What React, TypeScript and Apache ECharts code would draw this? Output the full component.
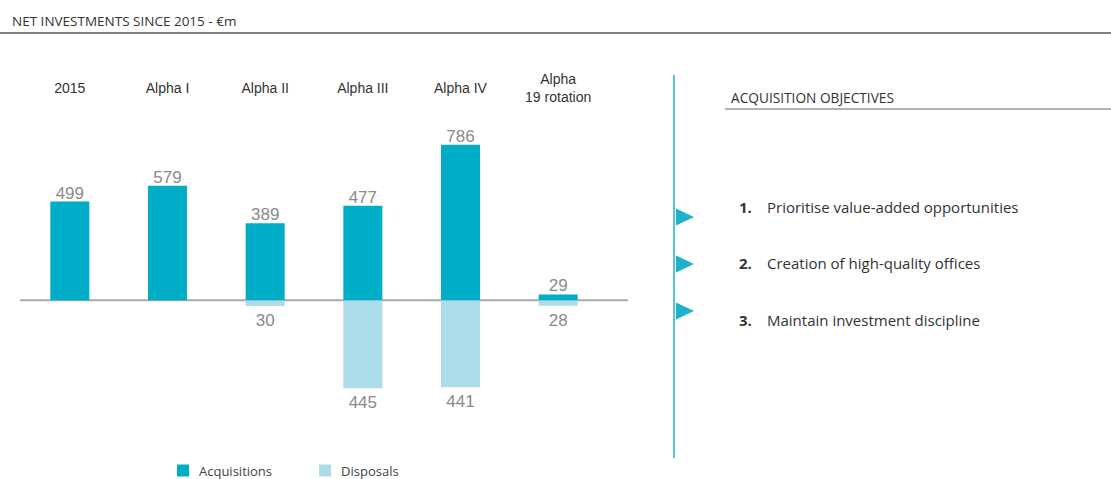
import React, { useEffect, useRef } from "react";
import * as echarts from "echarts";

const categories = ["2015", "Alpha I", "Alpha II", "Alpha III", "Alpha IV", "Alpha\n19 rotation"];
const acquisitions = [499, 579, 389, 477, 786, 29];
const disposals: (number | null)[] = [null, null, 30, 445, 441, 28];
const objectives = [
  "Prioritise value-added opportunities",
  "Creation of high-quality offices",
  "Maintain investment discipline",
];
const title = "NET INVESTMENTS SINCE 2015 - €m";
const sideTitle = "ACQUISITION OBJECTIVES";

const ACQ = "#00adc6";
const DIS = "#acdce8";
const TEAL = "#1eb2ca";
const SANS = "'Open Sans', 'Noto Sans', sans-serif";
const NUM = "'Liberation Sans', Arial, sans-serif";

export default function App() {
  const ref = useRef<HTMLDivElement>(null);
  useEffect(() => {
    if (!ref.current) return;
    const chart = echarts.init(ref.current, undefined, { renderer: "svg" });
    const option: any = {
      animation: false,
      grid: { left: 21, width: 586, top: 142, height: 257 },
      xAxis: {
        type: "category",
        data: categories,
        position: "top",
        axisLine: { show: false, onZero: false },
        axisTick: { show: false },
        axisLabel: {
          interval: 0,
          margin: 54,
          verticalAlign: "middle",
          color: "#333",
          fontSize: 14,
          lineHeight: 18,
          fontFamily: NUM,
        },
      },
      yAxis: {
        type: "value",
        min: -500,
        max: 800,
        show: false,
        splitLine: { show: false },
      },
      legend: {
        left: 177,
        top: 464,
        padding: 0,
        itemWidth: 12,
        itemHeight: 12,
        itemGap: 47,
        icon: "rect",
        textStyle: {
          color: "#444",
          fontSize: 13,
          lineHeight: 13,
          fontFamily: SANS,
          padding: [0, 0, 0, 5],
        },
        data: ["Acquisitions", "Disposals"],
      },
      series: [
        {
          name: "Acquisitions",
          type: "bar",
          stack: "s",
          barWidth: 39,
          data: acquisitions,
          itemStyle: { color: ACQ },
          label: {
            show: true,
            position: "top",
            distance: 0,
            color: "#8a8a8a",
            fontSize: 17,
            fontFamily: NUM,
          },
          z: 3,
        },
        {
          name: "Disposals",
          type: "bar",
          stack: "s",
          barWidth: 39,
          data: disposals.map((v) => (v == null ? "-" : -v)),
          itemStyle: { color: DIS },
          label: {
            show: true,
            position: "bottom",
            distance: 6,
            color: "#8a8a8a",
            fontSize: 17,
            fontFamily: NUM,
            formatter: (p: any) => String(Math.abs(p.value)),
          },
          z: 2,
        },
      ],
    };
    chart.setOption(option);
    const y0 = chart.convertToPixel({ yAxisIndex: 0 }, 0) as number;

    const graphics: any[] = [
      {
        type: "text",
        x: 12,
        y: 20.5,
        style: { text: title, fill: "#333", font: `13.5px ${SANS}`, verticalAlign: "middle" },
      },
      {
        type: "line",
        shape: { x1: 0, y1: 33, x2: 1111, y2: 33 },
        style: { stroke: "#555", lineWidth: 1.5 },
      },
      {
        type: "line",
        z: 0,
        shape: { x1: 20, y1: y0, x2: 628, y2: y0 },
        style: { stroke: "#aaaaaa", lineWidth: 2 },
      },
      {
        type: "line",
        shape: { x1: 674, y1: 75, x2: 674, y2: 458 },
        style: { stroke: TEAL, lineWidth: 1.5 },
      },
      {
        type: "text",
        x: 731,
        y: 97.5,
        style: { text: sideTitle, fill: "#333", font: `13.7px ${SANS}`, verticalAlign: "middle" },
      },
      {
        type: "line",
        shape: { x1: 725, y1: 109, x2: 1111, y2: 109 },
        style: { stroke: "#666", lineWidth: 1.2 },
      },
    ];
    const ys = [217, 264, 311];
    const textYs = [206.5, 262.5, 319.5];
    objectives.forEach((t, i) => {
      graphics.push({
        type: "polygon",
        shape: { points: [[676, ys[i] - 8.5], [694, ys[i]], [676, ys[i] + 8.5]] },
        style: { fill: TEAL },
      });
      graphics.push({
        type: "text",
        x: 739,
        y: textYs[i],
        style: {
          text: `${i + 1}.`,
          fill: "#333",
          font: `bold 15px ${SANS}`,
          verticalAlign: "middle",
        },
      });
      graphics.push({
        type: "text",
        x: 767,
        y: textYs[i],
        style: { text: t, fill: "#333", font: `15px ${SANS}`, verticalAlign: "middle" },
      });
    });
    chart.setOption({ graphic: graphics });
    return () => chart.dispose();
  }, []);
  return (
    <div
      ref={ref}
      style={{ position: "fixed", left: 0, top: 0, width: 1111, height: 479, background: "#fff" }}
    />
  );
}
